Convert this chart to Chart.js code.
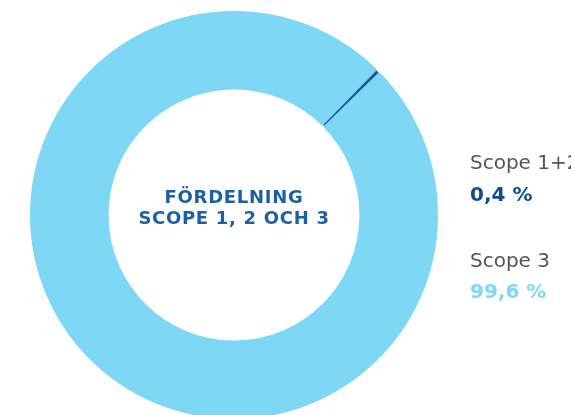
<!DOCTYPE html>
<html>
<head>
<meta charset="utf-8">
<script src="https://cdn.jsdelivr.net/npm/chart.js"></script>
<style>
  html, body { margin: 0; padding: 0; background: #fff; overflow: hidden; }
  #wrap { position: relative; width: 571px; height: 415px; overflow: hidden; }
  #wrap canvas { position: absolute; left: 0; top: 0; }
</style>
</head>
<body>
<div id="wrap"><canvas id="donut" width="571" height="430"></canvas></div>
<script>
// chart data
const labels = ['Scope 1+2', 'Scope 3'];
const shares = [0.4, 99.6];
const shareText = ['0,4 %', '99,6 %'];
const centerLines = ['FÖRDELNING', 'SCOPE 1, 2 OCH 3'];

const LIGHT = '#7dd7f5';
const DARK = '#1a55a0';

// draws the title in the hole and the labels on the right
const textPlugin = {
  id: 'texts',
  afterDraw(chart) {
    const ctx = chart.ctx;
    const meta = chart.getDatasetMeta(0).data[0];
    ctx.save();
    ctx.textAlign = 'center';
    ctx.textBaseline = 'alphabetic';
    ctx.fillStyle = '#1d5fa5';
    ctx.font = 'bold 18px "DejaVu Sans"';
    ctx.letterSpacing = '0.7px';
    ctx.fillText(centerLines[0], meta.x, 203);
    ctx.fillText(centerLines[1], meta.x, 224);
    ctx.letterSpacing = '0px';

    ctx.textAlign = 'left';
    const rows = [[169, 201], [267, 298]];
    const valueColors = ['#0d4c9b', LIGHT];
    labels.forEach((lab, i) => {
      ctx.fillStyle = '#555555';
      ctx.font = '20px "DejaVu Sans"';
      ctx.fillText(lab, 470, rows[i][0]);
      ctx.fillStyle = valueColors[i];
      ctx.font = 'bold 20px "DejaVu Sans"';
      ctx.fillText(shareText[i], 470, rows[i][1]);
    });
    ctx.restore();
  }
};

new Chart(document.getElementById('donut'), {
  type: 'doughnut',
  data: {
    labels: labels,
    datasets: [{
      data: shares,
      backgroundColor: [DARK, LIGHT],
      borderColor: [DARK, LIGHT],
      borderWidth: [0, 2],
      borderAlign: 'center'
    }]
  },
  options: {
    responsive: false,
    animation: false,
    cutout: '62.3%',
    rotation: 44.3,
    layout: { padding: { left: 30, top: 11, right: 133, bottom: 11 } },
    plugins: {
      legend: { display: false },
      tooltip: { enabled: false }
    }
  },
  plugins: [textPlugin]
});
</script>
</body>
</html>
